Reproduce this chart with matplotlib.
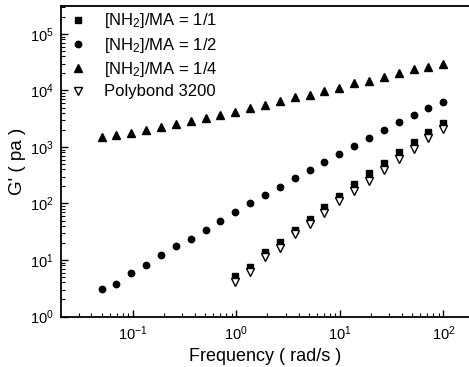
import matplotlib
matplotlib.use("Agg")
import matplotlib.pyplot as plt
from matplotlib.ticker import LogLocator, NullFormatter

plt.rcParams['font.family'] = ['Liberation Sans', 'DejaVu Sans']
plt.rcParams['mathtext.fontset'] = 'custom'
plt.rcParams['mathtext.rm'] = 'Liberation Sans'
plt.rcParams['mathtext.it'] = 'Liberation Sans:italic'
plt.rcParams['mathtext.bf'] = 'Liberation Sans:bold'

# Frequencies (rad/s)
freq_full = [0.05, 0.0696, 0.0968, 0.1348, 0.1875, 0.261, 0.3633, 0.5055,
             0.7035, 0.979, 1.362, 1.895, 2.638, 3.671, 5.109, 7.109, 9.89,
             13.77, 19.16, 26.67, 37.1, 51.6, 71.9, 100.0]
freq_high = [0.979, 1.362, 1.895, 2.638, 3.671, 5.109, 7.109, 9.89,
             13.77, 19.16, 26.67, 37.1, 51.6, 71.9, 100.0]

g_11 = [5.21, 7.61, 13.7, 21.1, 34.0, 53.2, 85.7, 137, 219, 343, 527, 816,
        1242, 1821, 2625]
g_12 = [3.03, 3.81, 5.82, 8.26, 12.1, 17.9, 23.2, 34.4, 49.6, 70.8, 102, 143,
        198, 283, 387, 543, 761, 1054, 1443, 2000, 2736, 3680, 4960, 6250]
g_14 = [1485, 1610, 1750, 2000, 2230, 2550, 2920, 3300, 3680, 4210, 4900,
        5540, 6440, 7580, 8320, 9800, 11200, 13400, 14900, 17100, 20100,
        23700, 25700, 29400]
g_pb = [4.13, 6.21, 11.2, 16.1, 28.5, 43.4, 67.1, 111, 169, 250, 392, 606,
        933, 1426, 2056]

labels = [r'[NH$_\mathregular{2}$]/MA = 1/1', r'[NH$_\mathregular{2}$]/MA = 1/2',
          r'[NH$_\mathregular{2}$]/MA = 1/4', 'Polybond 3200']

W, H = 469, 367
fig = plt.figure(figsize=(W / 100, H / 100), dpi=100)
ax = fig.add_axes([61 / W, (H - 316.5) / H, 1 - 61 / W, (316.5 - 6) / H])

ax.plot(freq_high, g_11, ls='none', marker='s', ms=4.0, color='black', label=labels[0])
ax.plot(freq_full, g_12, ls='none', marker='o', ms=4.6, color='black', label=labels[1])
ax.plot(freq_full, g_14, ls='none', marker='^', ms=5.2, color='black', label=labels[2])
ax.plot(freq_high, g_pb, ls='none', marker='v', ms=5.2, mfc='white', mec='black',
        mew=1.0, label=labels[3])

ax.set_xscale('log')
ax.set_yscale('log')
ax.set_xlim(0.0203, 177)
ax.set_ylim(1, 3.13e5)

ax.xaxis.set_major_locator(LogLocator(base=10, numticks=10))
ax.xaxis.set_minor_locator(LogLocator(base=10, subs=range(2, 10), numticks=20))
ax.yaxis.set_major_locator(LogLocator(base=10, numticks=10))
ax.yaxis.set_minor_locator(LogLocator(base=10, subs=range(2, 10), numticks=20))
ax.xaxis.set_minor_formatter(NullFormatter())
ax.yaxis.set_minor_formatter(NullFormatter())

ax.tick_params(which='both', direction='in', top=False, right=False, labelsize=10.5)
ax.tick_params(which='major', length=5, width=1.0)
ax.tick_params(which='minor', length=3, width=0.8)
ax.tick_params(axis='x', pad=6)
ax.tick_params(axis='y', pad=5)

ax.spines['right'].set_visible(False)
for s in ['left', 'bottom', 'top']:
    ax.spines[s].set_linewidth(1.3)

ax.set_xlabel('Frequency ( rad/s )', fontsize=13, labelpad=3)
ax.set_ylabel("G' ( pa )", fontsize=13.5, labelpad=3)

ax.legend(loc='upper left', bbox_to_anchor=(-0.008, 1.02), frameon=False,
          fontsize=12, handlelength=1.0, handletextpad=1.1,
          labelspacing=0.32, borderaxespad=0.3)

fig.savefig('out.png', dpi=100)
